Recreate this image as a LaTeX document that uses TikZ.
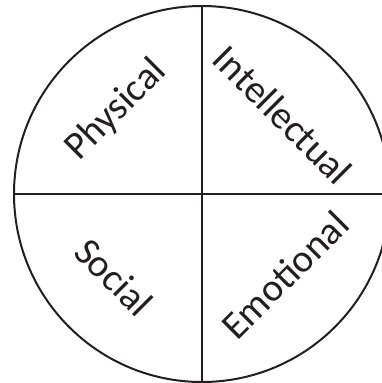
\documentclass[tikz,border=0pt]{standalone}
\usepackage{fontspec}
\setmainfont{Carlito}
\definecolor{ink}{HTML}{231F20}
\begin{document}
\begin{tikzpicture}[x=1pt,y=-1pt,
  line/.style={draw=ink,line width=2pt},
  lbl/.style={text=ink,font=\fontsize{39}{39}\selectfont,inner sep=0pt}]
\useasboundingbox (0,0) rectangle (382,383);
\coordinate (c) at (202,194);
\coordinate (t) at (202,6);
\coordinate (b) at (202,382);
\coordinate (l) at (14,194);
\coordinate (r) at (390,194);
\draw[line] (c) circle[radius=188];
\draw[line] (t) -- (b);
\draw[line] (l) -- (r);
\node[lbl,rotate=45] (phys) at (116,110) {Physical};
\node[lbl,rotate=-45] (intel) at (283,115) {Intellectual};
\node[lbl,rotate=-45] (soc) at (114,277) {Social};
\node[lbl,rotate=45] (emo) at (285,275) {Emotional};
\end{tikzpicture}
\end{document}
